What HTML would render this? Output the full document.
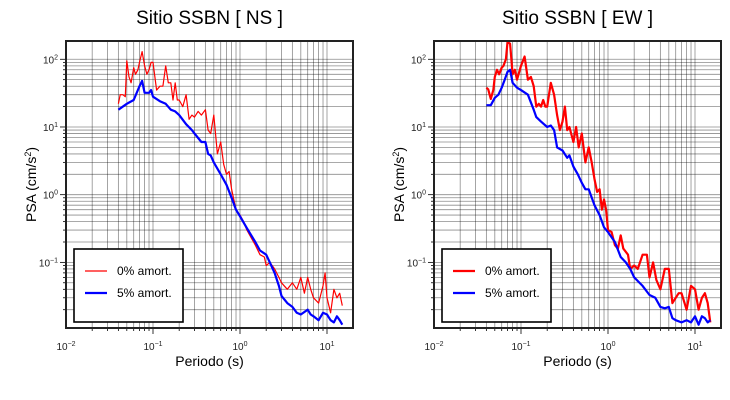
<!DOCTYPE html>
<html><head><meta charset="utf-8"><style>
body{margin:0;background:#fff;}
svg{display:block;font-family:"Liberation Sans",sans-serif;}
</style></head><body>
<svg id="chart" width="730" height="400"></svg>
<script>
const nsPeriods=[0.04,0.042,0.045,0.048,0.05,0.053,0.056,0.06,0.063,0.067,0.07,0.075,0.08,0.085,0.09,0.095,0.1,0.11,0.12,0.13,0.14,0.15,0.16,0.17,0.18,0.19,0.2,0.22,0.24,0.26,0.28,0.3,0.33,0.36,0.4,0.43,0.46,0.5,0.55,0.6,0.65,0.7,0.75,0.8,0.9,1.0,1.1,1.2,1.3,1.5,1.7,1.9,2.0,2.2,2.5,2.8,3.0,3.5,4,4.5,5,5.5,6,6.5,7,8,9,9.5,10,11,12,13,14,15];
const ns0=[22,30,30,28,95,55,45,75,60,70,90,130,80,60,70,90,90,35,40,40,80,45,45,25,45,25,25,20,30,13,15,14,17,15,18,9,8,15,4,6,2.8,2,2.2,1.2,0.6,0.5,0.4,0.3,0.25,0.18,0.13,0.12,0.09,0.1,0.08,0.06,0.05,0.04,0.05,0.04,0.06,0.035,0.06,0.04,0.03,0.025,0.045,0.07,0.03,0.018,0.04,0.03,0.035,0.023];
const ns5Periods=[0.04,0.05,0.06,0.07,0.075,0.08,0.09,0.095,0.1,0.12,0.14,0.16,0.18,0.2,0.24,0.28,0.3,0.36,0.4,0.43,0.46,0.5,0.6,0.7,0.8,0.9,1.0,1.2,1.5,1.7,2.0,2.2,2.5,2.8,3.0,3.5,4,4.5,5,6,6.5,7,8,9,10,11,12,13,14,15];
const ns5=[18,22,25,40,48,32,32,35,28,24,22,18,17,15,11,9,8,6,6,4,3.8,3,2,1.4,0.9,0.6,0.48,0.32,0.2,0.15,0.13,0.1,0.07,0.045,0.032,0.025,0.022,0.018,0.017,0.02,0.017,0.016,0.014,0.018,0.017,0.014,0.013,0.016,0.014,0.012];
const ew0Periods=[0.04,0.042,0.045,0.048,0.05,0.053,0.056,0.06,0.063,0.067,0.07,0.075,0.08,0.085,0.09,0.1,0.11,0.12,0.13,0.14,0.15,0.16,0.17,0.18,0.19,0.2,0.22,0.24,0.26,0.28,0.3,0.32,0.34,0.36,0.4,0.43,0.46,0.5,0.55,0.6,0.65,0.7,0.75,0.8,0.85,0.9,0.95,1.0,1.1,1.2,1.3,1.4,1.5,1.7,1.8,2.0,2.2,2.5,2.8,3.0,3.3,3.6,4,4.5,5,5.5,6,6.5,7,8,9,10,11,12,13,14,15];
const ew0=[38,36,26,35,55,70,60,75,80,100,180,170,60,70,50,80,110,50,55,40,20,22,20,25,20,20,45,30,15,9,12,20,9,10,6,10,5,8,3,5,3,1.7,1.1,1.2,0.6,0.85,0.6,0.3,0.28,0.18,0.16,0.25,0.16,0.13,0.08,0.09,0.08,0.13,0.13,0.06,0.1,0.055,0.04,0.08,0.08,0.025,0.03,0.035,0.035,0.02,0.045,0.04,0.02,0.03,0.035,0.025,0.013];
const ew5Periods=[0.04,0.045,0.05,0.055,0.06,0.065,0.07,0.075,0.08,0.09,0.1,0.12,0.14,0.15,0.17,0.2,0.22,0.24,0.26,0.3,0.34,0.36,0.4,0.45,0.5,0.55,0.6,0.7,0.8,0.9,1.0,1.2,1.4,1.6,1.8,2.0,2.5,3.0,3.5,4,4.5,5,5.5,6,7,8,9,10,11,12,13,14,15];
const ew5=[21,21,27,30,38,50,65,70,45,38,35,30,18,14,12,10,10.5,9,5,4.5,3.5,3.8,2.6,2,1.5,1.2,1.2,0.7,0.5,0.33,0.28,0.2,0.12,0.1,0.08,0.06,0.045,0.033,0.03,0.022,0.021,0.022,0.015,0.014,0.013,0.014,0.013,0.016,0.012,0.016,0.015,0.013,0.014];
const xTicks=[-2,-1,0,1];
const yTicks=[-1,0,1,2];

const NS='http://www.w3.org/2000/svg';
const svg=document.getElementById('chart');
function mk(tag,attrs,parent){const e=document.createElementNS(NS,tag);for(const k in attrs)e.setAttribute(k,attrs[k]);(parent||svg).appendChild(e);return e;}

function panel(cfg){
  const g=mk('g',{});
  
  
  const L=cfg.left,R=cfg.left+287,T=41,B=328;
  const xMinLog=-2,xDec=87;
  const yTopLog=2.27,yDec=67.7;
  const X=v=>L+(Math.log10(v)-xMinLog)*xDec;
  const Y=v=>T+(yTopLog-Math.log10(v))*yDec;
  const grid=mk('g',{stroke:'#000','stroke-opacity':'0.45','stroke-width':'0.8'},g);
  
  
  for(let d=-2;d<=1;d++)for(let m=1;m<=9;m++){const x=X(m*Math.pow(10,d));if(x>L+0.5&&x<R-0.5){mk('line',{x1:x,x2:x,y1:T,y2:B},grid);mk('line',{x1:x,x2:x,y1:B,y2:B+(m===1?6:3),stroke:'#000','stroke-opacity':'1'},grid);}}
  for(let d=-2;d<=2;d++)for(let m=1;m<=9;m++){const y=Y(m*Math.pow(10,d));if(y>T+0.5&&y<B-0.5){mk('line',{x1:L,x2:R,y1:y,y2:y},grid);mk('line',{x1:L-(m===1?6:3),x2:L,y1:y,y2:y,stroke:'#000','stroke-opacity':'1'},grid);}}
  xTicks.forEach(p=>{const t=mk('text',{x:X(Math.pow(10,p)),y:B+22,'text-anchor':'middle','font-size':'10',fill:'#222'},g);
    
    t.innerHTML='10<tspan dy="-4" font-size="7">'+(p<0?'−'+(-p):p)+'</tspan>';});
  yTicks.forEach(p=>{const t=mk('text',{x:L-8,y:Y(Math.pow(10,p))+4,'text-anchor':'end','font-size':'10',fill:'#222'},g);
    
    t.innerHTML='10<tspan dy="-4" font-size="7">'+(p<0?'−'+(-p):p)+'</tspan>';});
  function line(per,vals,color,w,name){const d=per.map((p,i)=>(i?'L':'M')+X(p).toFixed(1)+','+Y(vals[i]).toFixed(1)).join('');
    const pth=mk('path',{d:d,fill:'none',stroke:color,'stroke-width':w,'stroke-linejoin':'round'},g);
    }
  line(cfg.p0,cfg.v0,'#ff0000',cfg.w0,'series-0pct');
  line(cfg.p5,cfg.v5,'#0000ff',2.2,'series-5pct');
  const fr=mk('rect',{x:L,y:T,width:R-L,height:B-T,fill:'none',stroke:'#222','stroke-width':'2'},g);
  
  const lg=mk('g',{},g);
  
  const lx=L+8;
  mk('rect',{x:lx,y:249,width:109,height:73,fill:'#fff',stroke:'#000','stroke-width':'1.6'},lg);
  mk('line',{x1:lx+11,x2:lx+33,y1:271,y2:271,stroke:'#ff0000','stroke-width':cfg.w0},lg);
  mk('line',{x1:lx+11,x2:lx+33,y1:293,y2:293,stroke:'#0000ff','stroke-width':'2.2'},lg);
  const t1=mk('text',{x:lx+43,y:275,'font-size':'12',fill:'#000'},lg);t1.textContent='0% amort.';
  
  const t2=mk('text',{x:lx+43,y:297,'font-size':'12',fill:'#000'},lg);t2.textContent='5% amort.';
  
  const ti=mk('text',{x:(L+R)/2,y:24,'text-anchor':'middle','font-size':'19',fill:'#000'},g);ti.textContent=cfg.title;
  
  const xl=mk('text',{x:(L+R)/2,y:366,'text-anchor':'middle','font-size':'14',fill:'#000'},g);xl.textContent='Periodo (s)';
  
  const yl=mk('text',{x:0,y:0,'text-anchor':'middle','font-size':'14',fill:'#000',transform:'translate('+(L-30)+','+((T+B)/2)+') rotate(-90)'},g);
  yl.innerHTML='PSA (cm/s<tspan dy="-5" font-size="9">2</tspan><tspan dy="5">)</tspan>';
  
}
panel({name:'panel-ns',left:66,title:'Sitio SSBN [ NS ]',p0:nsPeriods,v0:ns0,p5:ns5Periods,v5:ns5,w0:1.2});
panel({name:'panel-ew',left:434,title:'Sitio SSBN [ EW ]',p0:ew0Periods,v0:ew0,p5:ew5Periods,v5:ew5,w0:2.2});
</script>
</body></html>
